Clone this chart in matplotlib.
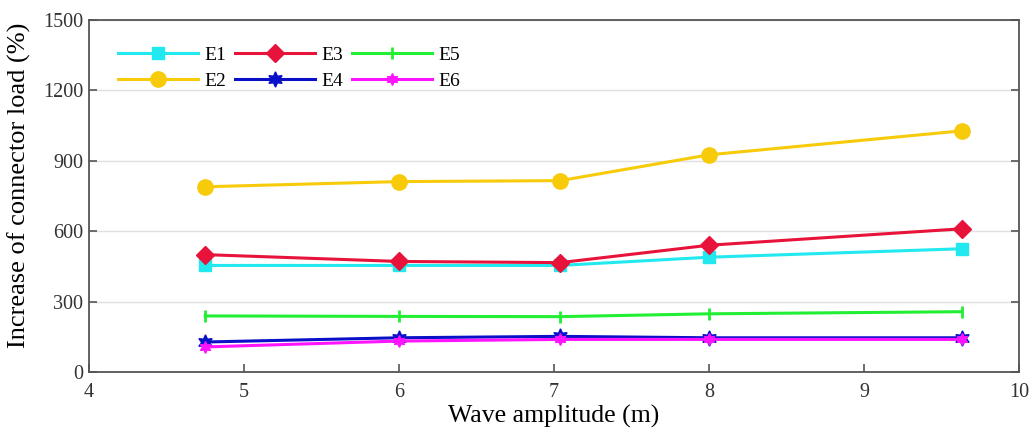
import numpy as np
import matplotlib
matplotlib.use("Agg")
import matplotlib.pyplot as plt

plt.rcParams['font.family'] = ['Liberation Serif', 'DejaVu Serif']
plt.rcParams['mathtext.fontset'] = 'stix'

# wave amplitudes (m)
amplitude = [4.75, 6.0, 7.04, 8.0, 9.63]

# increase of connector load (%) for each case
e1 = [455, 455, 455, 490, 526]
e2 = [790, 812, 816, 926, 1028]
e3 = [501, 472, 467, 541, 611]
e4 = [129, 147, 153, 147, 147]
e5 = [240, 238, 237, 249, 258]
e6 = [108, 133, 140, 140, 140]

labels = ['E1', 'E2', 'E3', 'E4', 'E5', 'E6']
series = [e1, e2, e3, e4, e5, e6]

colors = ['#22E8F0', '#F7CB0A', '#E8133A', '#0A10C8', '#22EE33', '#FF14FF']
markers = ['s', 'o', 'D', (6, 1, 0), '|', (6, 1, 0)]
msizes = [8, 11, 9.5, 11, 9, 8.5]

fig = plt.figure(figsize=(10.31, 4.32), dpi=100)
ax = fig.add_axes([0.0863, 0.1382, 0.9021, 0.8155])

for y, lab, c, m, ms in zip(series, labels, colors, markers, msizes):
    ax.plot(amplitude, y, color=c, marker=m, markersize=ms, lw=2.2,
            markeredgewidth=2 if m == '|' else 1, markeredgecolor=c,
            label=lab, zorder=3)

ax.set_xlim(4, 10)
ax.set_ylim(0, 1500)
ax.set_xticks(np.arange(4, 11, 1))
ax.set_yticks(np.arange(0, 1501, 300))
ax.yaxis.grid(True, color='#e0e0e0', lw=1)
ax.set_axisbelow(True)

for s in ax.spines.values():
    s.set_color('#555555')
    s.set_linewidth(1.3)
ax.tick_params(axis='both', direction='in', length=6, width=1.2,
               color='#555555', labelsize=14.5, labelcolor='#333333', pad=4,
               right=True)
ax.tick_params(axis='x', pad=8)

ax.set_xlabel('Wave amplitude (m)', fontsize=18.5, labelpad=2)
ax.set_ylabel('Increase of connector load (%)', fontsize=19)
ax.yaxis.set_label_coords(-0.0625, 0.53)

ax.legend(ncol=3, loc='upper left', frameon=False, fontsize=14,
          handlelength=4.1, columnspacing=0.45, handletextpad=0.35,
          labelspacing=0.45, bbox_to_anchor=(0.0125, 0.975))

fig.savefig('out.png', dpi=100)
